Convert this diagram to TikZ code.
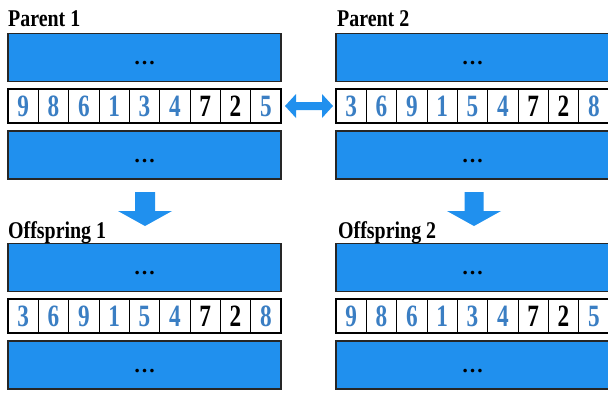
\documentclass[tikz,border=0pt]{standalone}
\usepackage{fontspec}
\setmainfont{Liberation Serif}
\newfontfamily\labfont[FakeStretch=0.83]{Liberation Serif}
\newfontfamily\digfont[FakeStretch=0.75]{Liberation Serif}
\usetikzlibrary{calc}
\definecolor{boxblue}{RGB}{32,144,238}
\definecolor{digblue}{RGB}{58,126,195}
\tikzset{
 bluebox/.style={draw=black!85, line width=1.3pt, fill=boxblue, minimum width=273pt, minimum height=48pt, inner sep=0pt, outer sep=0pt, anchor=north west, text height=14pt, text depth=0pt, font=\fontsize{22}{22}\selectfont\bfseries},
 rowbox/.style={draw=black, line width=1.2pt, fill=white, minimum width=273pt, minimum height=34pt, inner sep=0pt, outer sep=0pt, anchor=north west},
 cell/.style={draw=black, line width=0.9pt, minimum width=30.333pt, minimum height=34pt, inner sep=0pt, outer sep=0pt, font=\digfont\fontsize{31}{31}\selectfont\bfseries},
 title/.style={anchor=base west, inner sep=0pt, font=\labfont\fontsize{24}{24}\selectfont\bfseries},
 blockarrow/.style={fill=boxblue, draw=none}
}
\newcommand\genome[4]{%
 \node[bluebox] (#1top) at (#2,#3) {…};
 \node[rowbox] (#1row) at (#2,#3+55.5) {};
 \foreach \d/\c [count=\i from 0] in {#4} {\node[cell,text=\c] (#1c\i) at ($(#1row.west)+(\i*30.333+15.1667,0)$) {\d};}
 \draw[line width=1.2pt] (#1row.north west) rectangle (#1row.south east);
 \node[bluebox] (#1bot) at (#2,#3+97.5) {…};
}
\begin{document}
\begin{tikzpicture}[x=1pt,y=-1pt]
\fill[white] (0,0) rectangle (608,392);
\useasboundingbox (0,0) rectangle (608,392);
\genome{pa}{8}{33.5}{9/digblue,8/digblue,6/digblue,1/digblue,3/digblue,4/digblue,7/black,2/black,5/digblue}
\genome{pb}{336}{33.5}{3/digblue,6/digblue,9/digblue,1/digblue,5/digblue,4/digblue,7/black,2/black,8/digblue}
\genome{oa}{8}{243.5}{3/digblue,6/digblue,9/digblue,1/digblue,5/digblue,4/digblue,7/black,2/black,8/digblue}
\genome{ob}{336}{243.5}{9/digblue,8/digblue,6/digblue,1/digblue,3/digblue,4/digblue,7/black,2/black,5/digblue}
\node[title] (tpa) at ($(patop.north west)+(0,-7.5)$) {Parent 1};
\node[title] (tpb) at ($(pbtop.north west)+(1,-7.5)$) {Parent 2};
\node[title] (toa) at ($(oatop.north west)+(0,-5.5)$) {Offspring 1};
\node[title] (tob) at ($(obtop.north west)+(2,-5.5)$) {Offspring 2};
% double arrow between parents
\coordinate (d1) at ($(parow.east)+(4,0)$);
\fill[blockarrow] (d1) -- ++(11,-12) -- ++(0,8) -- ++(26,0) -- ++(0,-8) -- ++(11,12) -- ++(-11,12) -- ++(0,-8) -- ++(-26,0) -- ++(0,8) -- cycle;
% down arrows
\coordinate (a1) at ($(pabot.south)+(0.5,13)$);
\fill[blockarrow] ($(a1)+(-10,0)$) -- ++(20,0) -- ++(0,19) -- ++(17,0) -- ++(-27,15) -- ++(-27,-15) -- ++(17,0) -- cycle;
\coordinate (a2) at ($(pbbot.south)+(1.5,13)$);
\fill[blockarrow] ($(a2)+(-9.5,0)$) -- ++(19,0) -- ++(0,19) -- ++(17.5,0) -- ++(-27,15) -- ++(-27,-15) -- ++(17.5,0) -- cycle;
\end{tikzpicture}
\end{document}
